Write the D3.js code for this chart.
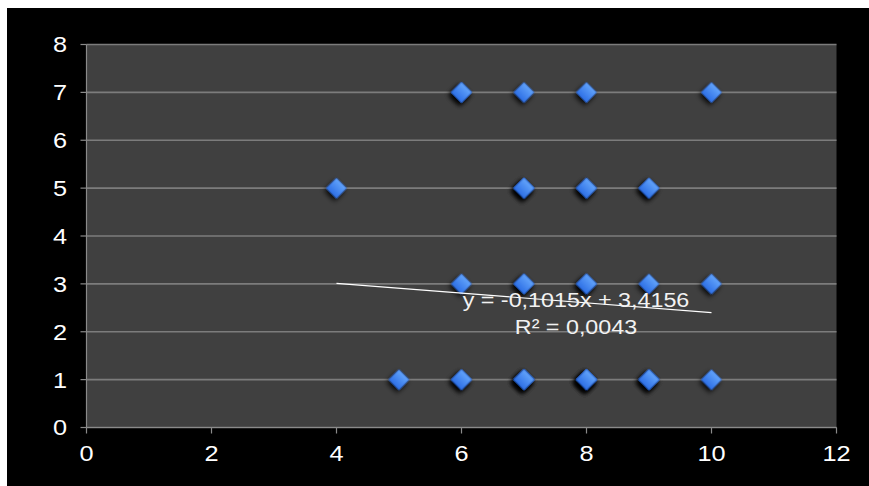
<!DOCTYPE html>
<html>
<head>
<meta charset="utf-8">
<script src="https://cdn.jsdelivr.net/npm/d3@7"></script>
<style>
  html, body { margin: 0; padding: 0; background: #ffffff; }
  svg { display: block; }
</style>
</head>
<body>
<svg id="chart" width="869" height="486"></svg>
<script>
// ---- data (repeated points are stacked markers) ----
const xValues = [4, 5, 6, 6, 6, 6, 6, 7, 7, 7, 7, 7, 7, 7, 7, 7, 7, 8, 8, 8, 8, 8, 8, 8, 8, 8, 8, 9, 9, 9, 9, 9, 9, 10, 10, 10];
const yValues = [5, 1, 1, 1, 3, 7, 7, 1, 1, 1, 1, 3, 3, 5, 5, 5, 7, 1, 1, 1, 1, 1, 3, 3, 5, 5, 7, 1, 1, 1, 3, 5, 5, 1, 3, 7];
const xTicks = [0, 2, 4, 6, 8, 10, 12];
const yTicks = [0, 1, 2, 3, 4, 5, 6, 7, 8];
const trendSlope = -0.1015;
const trendIntercept = 3.4156;
const trendR2 = 0.0043;

const svg = d3.select("#chart");
const W = 869, H = 486;

// outer frame
svg.append("rect").attr("x", 0).attr("y", 0).attr("width", W).attr("height", H).attr("fill", "#ffffff");
svg.append("rect").attr("x", 7).attr("y", 8).attr("width", W - 7).attr("height", H - 8).attr("fill", "#000000");

const x = d3.scaleLinear().domain([0, 12]).range([86.5, 836.5]);
const y = d3.scaleLinear().domain([0, 8]).range([427.5, 44.5]);

const defs = svg.append("defs");
const grad = defs.append("linearGradient").attr("id", "mk").attr("x1", 0).attr("y1", 0).attr("x2", 0).attr("y2", 1);
grad.append("stop").attr("offset", "0%").attr("stop-color", "#62a3fa");
grad.append("stop").attr("offset", "100%").attr("stop-color", "#2e70e6");
const f = defs.append("filter").attr("id", "sh").attr("x", "-100%").attr("y", "-100%").attr("width", "300%").attr("height", "300%");
f.append("feDropShadow").attr("dx", 0.5).attr("dy", 3.2).attr("stdDeviation", 2.9)
  .attr("flood-color", "#000").attr("flood-opacity", 0.9);

// plot area
svg.append("rect")
  .attr("x", x(0)).attr("y", y(8))
  .attr("width", x(12) - x(0)).attr("height", y(0) - y(8))
  .attr("fill", "#404040");

// gridlines
svg.append("g").selectAll("line").data(yTicks).join("line")
  .attr("x1", x(0)).attr("x2", x(12))
  .attr("y1", d => y(d)).attr("y2", d => y(d))
  .attr("stroke", "#7c7c7c").attr("stroke-width", 1.6);

// axes lines
svg.append("line").attr("x1", x(0)).attr("x2", x(0)).attr("y1", y(8)).attr("y2", y(0))
  .attr("stroke", "#8a8a8a").attr("stroke-width", 1.2);
svg.append("line").attr("x1", x(0)).attr("x2", x(12)).attr("y1", y(0)).attr("y2", y(0))
  .attr("stroke", "#8a8a8a").attr("stroke-width", 1.2);

// tick marks
svg.append("g").selectAll("line").data(yTicks).join("line")
  .attr("x1", x(0) - 6).attr("x2", x(0))
  .attr("y1", d => y(d)).attr("y2", d => y(d))
  .attr("stroke", "#8a8a8a").attr("stroke-width", 1.2);
svg.append("g").selectAll("line").data(xTicks).join("line")
  .attr("x1", d => x(d)).attr("x2", d => x(d))
  .attr("y1", y(0)).attr("y2", y(0) + 6)
  .attr("stroke", "#8a8a8a").attr("stroke-width", 1.2);

const font = "'Liberation Sans', Arial, sans-serif";
const sx = 1.15;

// y tick labels
svg.append("g").selectAll("text").data(yTicks).join("text")
  .attr("transform", d => `translate(67,${y(d) + 7.9}) scale(${sx},1)`)
  .attr("text-anchor", "end")
  .attr("font-family", font).attr("font-size", 22).attr("fill", "#ffffff")
  .text(d => d);

// x tick labels
svg.append("g").selectAll("text").data(xTicks).join("text")
  .attr("transform", d => `translate(${x(d)},461) scale(${sx},1)`)
  .attr("text-anchor", "middle")
  .attr("font-family", font).attr("font-size", 22).attr("fill", "#ffffff")
  .text(d => d);

// points
const points = xValues.map((v, i) => ({ x: v, y: yValues[i] }));
const diamond = d3.symbol().type(d3.symbolSquare).size(14.2 * 14.2);
svg.append("g").selectAll("path").data(points).join("path")
  .attr("d", diamond)
  .attr("transform", d => `translate(${x(d.x)},${y(d.y)}) rotate(45)`)
  .attr("fill", "url(#mk)")
  .attr("stroke", "#2a62c8").attr("stroke-width", 0.6)
  .attr("filter", "url(#sh)");

// trend line
const xMin = d3.min(xValues), xMax = d3.max(xValues);
svg.append("line")
  .attr("x1", x(xMin)).attr("y1", y(trendIntercept + trendSlope * xMin))
  .attr("x2", x(xMax)).attr("y2", y(trendIntercept + trendSlope * xMax))
  .attr("stroke", "#ffffff").attr("stroke-width", 1.2);

// equation label
const fmt = v => String(v).replace(".", ",");
const eq1 = `y = ${fmt(trendSlope)}x + ${fmt(trendIntercept)}`;
const eq2 = `R² = ${fmt(trendR2)}`;
svg.append("text")
  .attr("transform", `translate(576,306.5) scale(1.11,1)`)
  .attr("text-anchor", "middle")
  .attr("font-family", font).attr("font-size", 21).attr("fill", "#f2f2f2")
  .text(eq1);
svg.append("text")
  .attr("transform", `translate(576,333.5) scale(1.11,1)`)
  .attr("text-anchor", "middle")
  .attr("font-family", font).attr("font-size", 21).attr("fill", "#f2f2f2")
  .text(eq2);
</script>
</body>
</html>
